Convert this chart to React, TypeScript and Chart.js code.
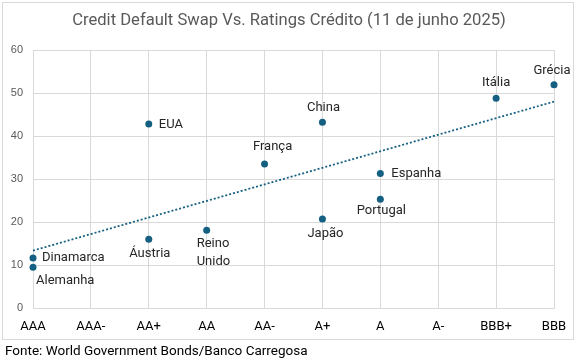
import React, { useEffect, useRef } from "react";
import { Chart, registerables } from "chart.js";

Chart.register(...registerables);

const TITLE = "Credit Default Swap Vs. Ratings Crédito (11 de junho 2025)";
const SOURCE = "Fonte: World Government Bonds/Banco Carregosa";

const categories = ["AAA", "AAA-", "AA+", "AA", "AA-", "A+", "A", "A-", "BBB+", "BBB"];
const countries = ["Alemanha", "Dinamarca", "Áustria", "EUA", "Reino Unido", "França", "China", "Japão", "Espanha", "Portugal", "Itália", "Grécia"];
const ratings = ["AAA", "AAA", "AA+", "AA+", "AA", "AA-", "A+", "A+", "A", "A", "BBB+", "BBB"];
const cds = [9.5, 11.6, 16.0, 42.8, 18.1, 33.5, 43.2, 20.7, 31.3, 25.3, 48.8, 51.9];
const yMin = 0;
const yMax = 60;
const yStep = 10;

// label placement (style only): [dx, dy, align, wrap]
const labelStyle: [number, number, CanvasTextAlign, boolean][] = [
  [3, 14, "left", false],
  [9, 0, "left", false],
  [1, 15, "center", false],
  [10, 1, "left", false],
  [-10, 14, "left", true],
  [8, -17, "center", false],
  [1, -14.5, "center", false],
  [3, 15, "center", false],
  [11, 0, "left", false],
  [1, 12, "center", false],
  [0, -15, "center", false],
  [-2, -14, "center", false],
];

const POINT_COLOR = "#156082";
const GRID = "#d9d9d9";
const FONT = "Roboto";

function regression(xs: number[], ys: number[]) {
  const n = xs.length;
  const mx = xs.reduce((a, b) => a + b, 0) / n;
  const my = ys.reduce((a, b) => a + b, 0) / n;
  let sxy = 0, sxx = 0;
  for (let i = 0; i < n; i++) {
    sxy += (xs[i] - mx) * (ys[i] - my);
    sxx += (xs[i] - mx) * (xs[i] - mx);
  }
  const m = sxy / sxx;
  return { m, b: my - m * mx };
}

export default function App() {
  const ref = useRef<HTMLCanvasElement | null>(null);
  useEffect(() => {
    if (!ref.current) return;
    const xs = ratings.map((r) => categories.indexOf(r));
    const points = xs.map((x, i) => ({ x, y: cds[i] }));
    const { m, b } = regression(xs, cds);
    const xLast = categories.length - 1;
    const trend = [
      { x: 0, y: b },
      { x: xLast, y: b + m * xLast },
    ];

    const decor = {
      id: "decor",
      beforeDraw(chart: any) {
        const ctx = chart.ctx;
        ctx.save();
        ctx.fillStyle = "#ffffff";
        ctx.fillRect(0, 0, chart.width, chart.height);
        ctx.strokeStyle = GRID;
        ctx.lineWidth = 1;
        ctx.strokeRect(2.5, 2.5, 571, 337);
        ctx.fillStyle = "#595959";
        ctx.font = `16.6px ${FONT}`;
        ctx.textAlign = "center";
        ctx.textBaseline = "middle";
        ctx.fillText(TITLE, 289, 21);
        ctx.fillStyle = "#000000";
        ctx.font = `13.5px ${FONT}`;
        ctx.textAlign = "left";
        ctx.fillText(SOURCE, 5, 352);
        ctx.restore();
      },
      afterDatasetsDraw(chart: any) {
        const ctx = chart.ctx;
        const meta = chart.getDatasetMeta(1);
        ctx.save();
        ctx.fillStyle = "#262626";
        ctx.font = `13px ${FONT}`;
        ctx.textBaseline = "middle";
        meta.data.forEach((el: any, i: number) => {
          const [dx, dy, align, wrap] = labelStyle[i];
          ctx.textAlign = align;
          const lines = wrap ? countries[i].split(" ") : [countries[i]];
          lines.forEach((ln, k) => {
            ctx.fillText(ln, el.x + dx, el.y + dy + k * 18);
          });
        });
        ctx.restore();
      },
    };

    const chart = new Chart(ref.current, {
      type: "scatter",
      data: {
        datasets: [
          {
            type: "line",
            data: trend,
            borderColor: POINT_COLOR,
            borderWidth: 1.75,
            borderDash: [2, 2],
            pointRadius: 0,
            fill: false,
            clip: false,
          } as any,
          {
            data: points,
            backgroundColor: POINT_COLOR,
            borderColor: POINT_COLOR,
            pointRadius: 3.5,
            pointBorderWidth: 0,
            clip: false,
          } as any,
        ],
      },
      plugins: [decor],
      options: {
        animation: false,
        responsive: false,
        maintainAspectRatio: false,
        layout: { padding: { left: 0, top: 50, right: 24, bottom: 0 } },
        plugins: {
          legend: { display: false },
          title: { display: false },
          tooltip: { enabled: false },
        },
        scales: {
          x: {
            type: "linear",
            min: 0,
            max: xLast,
            afterFit: (s: any) => {
              s.height = 53;
            },
            afterBuildTicks: (s: any) => {
              s.ticks = categories.map((_, i) => ({ value: i }));
            },
            ticks: {
              autoSkip: false,
              maxRotation: 0,
              padding: 11,
              color: "#000000",
              font: { family: FONT, size: 13 },
              callback: (v: any) => categories[v as number] ?? "",
            },
            grid: { color: GRID, drawTicks: false },
            border: { color: GRID },
          },
          y: {
            min: yMin,
            max: yMax,
            afterFit: (s: any) => {
              s.width = 33;
            },
            ticks: {
              stepSize: yStep,
              padding: 10,
              color: "#595959",
              font: { family: "Liberation Sans", size: 11 },
            },
            grid: { color: GRID, drawTicks: false },
            border: { color: GRID },
          },
        },
      },
    });
    return () => chart.destroy();
  }, []);
  return (
    <div style={{ position: "absolute", left: 0, top: 0, width: 578, height: 361 }}>
      <canvas ref={ref} width={578} height={361} style={{ width: 578, height: 361 }} />
    </div>
  );
}
